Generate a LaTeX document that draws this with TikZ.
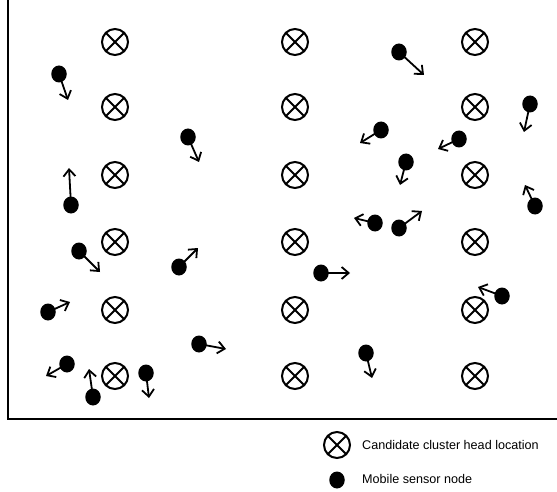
\documentclass[tikz,border=0pt]{standalone}
\usepackage{fontspec}
\setmainfont{Liberation Sans}
\usetikzlibrary{arrows.meta,shapes.geometric}
\tikzset{
  chead/.style={circle,draw,line width=2pt,minimum size=26pt,inner sep=0pt,
    path picture={\draw[line width=2pt] (path picture bounding box.north west)--(path picture bounding box.south east)
      (path picture bounding box.north east)--(path picture bounding box.south west);}},
  sensor/.style={ellipse,fill=black,minimum width=15.5pt,minimum height=17pt,inner sep=0pt},
  move/.style={line width=1.8pt,-{Straight Barb[length=7pt,width=12pt,line width=1.8pt]}},
  legtext/.style={anchor=west,inner sep=0pt,font=\fontsize{12.6}{15}\selectfont},
  frame/.style={line width=2pt}
}
\begin{document}
\begin{tikzpicture}[x=1pt,y=-1pt]
\useasboundingbox (0,0) rectangle (557,492);
% frame
\coordinate (ftop) at (8,-2);
\coordinate (fcorner) at (8,419);
\coordinate (fright) at (559,419);
\draw[frame] (ftop) -- (fcorner) -- (fright);
% candidate cluster heads
\foreach \c/\cx in {a/115,b/295,c/475}{
  \foreach \r/\ry in {1/42,2/107,3/175,4/242,5/310,6/376}{
    \node[chead] (h\c\r) at (\cx,\ry) {};
  }
}
% mobile sensor nodes with movement directions
\foreach \i/\sx/\sy/\tx/\ty in {
  1/59/74/68/100,
  2/188/137/199/162,
  3/71/205/69/168,
  4/399/52/424/75,
  5/381/130/360/143,
  6/459/139/438/149,
  7/406/162/400/185,
  8/530/104/524/132,
  9/535/206/525/185,
  10/79/251/100/272,
  11/179/267/198/248,
  12/48/312/70/302,
  13/199/344/226/349,
  14/67/364/46/376,
  15/93/397/89/369,
  16/146/373/149/398,
  17/375/223/354/218,
  18/399/228/422/211,
  19/321/273/350/273,
  20/502/296/478/287,
  21/366/353/372/378}{
  \node[sensor] (s\i) at (\sx,\sy) {};
  \coordinate (t\i) at (\tx,\ty);
  \draw[move] (s\i.center) -- (t\i);
}
% legend
\node[chead] (lhead) at (337,445) {};
\node[legtext] (lheadtext) at (362,445) {Candidate cluster head location};
\node[sensor] (lsensor) at (337,480) {};
\node[legtext] (lsensortext) at (362,479) {Mobile sensor node};
\end{tikzpicture}
\end{document}
